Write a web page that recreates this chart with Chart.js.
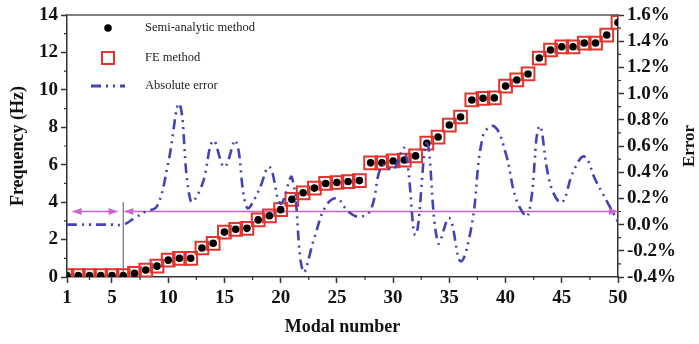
<!DOCTYPE html>
<html>
<head>
<meta charset="utf-8">
<script src="https://cdn.jsdelivr.net/npm/chart.js@4.4.1/dist/chart.umd.min.js"></script>
<style>
  body { margin: 0; background: #fff; }
  #wrap { width: 699px; height: 344px; }
</style>
</head>
<body>
<div id="wrap"><canvas id="myChart" width="699" height="344"></canvas></div>
<script>
// modal numbers 1..50
const modes = [1, 2, 3, 4, 5, 6, 7, 8, 9, 10,
  11, 12, 13, 14, 15, 16, 17, 18, 19, 20,
  21, 22, 23, 24, 25, 26, 27, 28, 29, 30,
  31, 32, 33, 34, 35, 36, 37, 38, 39, 40,
  41, 42, 43, 44, 45, 46, 47, 48, 49, 50];

// frequency (Hz)
const semiAnalytic = [0.08, 0.08, 0.08, 0.08, 0.08, 0.08, 0.2, 0.37, 0.58, 0.9,
  1.0, 1.0, 1.55, 1.8, 2.4, 2.55, 2.6, 3.05, 3.27, 3.6,
  4.15, 4.5, 4.75, 5.0, 5.05, 5.1, 5.15, 6.1, 6.1, 6.2,
  6.25, 6.47, 7.15, 7.48, 8.12, 8.55, 9.46, 9.55, 9.57, 10.2,
  10.53, 10.85, 11.7, 12.13, 12.3, 12.3, 12.5, 12.5, 12.93, 13.6];
const feMethod = [0.08, 0.08, 0.08, 0.08, 0.08, 0.08, 0.2, 0.37, 0.58, 0.9,
  1.0, 1.0, 1.55, 1.8, 2.4, 2.55, 2.6, 3.05, 3.27, 3.6,
  4.15, 4.5, 4.75, 5.0, 5.05, 5.1, 5.15, 6.1, 6.1, 6.2,
  6.25, 6.47, 7.15, 7.48, 8.12, 8.55, 9.46, 9.55, 9.57, 10.2,
  10.53, 10.85, 11.7, 12.13, 12.3, 12.3, 12.5, 12.5, 12.93, 13.6];

// absolute error (%)
const absError = [0.0, 0.0, 0.0, 0.0, 0.0, 0.0, 0.05, 0.1, 0.14, 0.47,
  0.92, 0.18, 0.3, 0.64, 0.44, 0.64, 0.13, 0.25, 0.44, 0.16,
  0.36, -0.36, -0.1, 0.14, 0.2, 0.1, 0.06, 0.11, 0.45, 0.42,
  0.58, -0.08, 0.62, -0.14, 0.05, -0.28, 0.0, 0.68, 0.75, 0.55,
  0.18, 0.07, 0.75, 0.3, 0.17, 0.4, 0.52, 0.34, 0.18, 0.02];

const xTicks = [1, 5, 10, 15, 20, 25, 30, 35, 40, 45, 50];
const xMinor = [3, 7.5, 12.5, 17.5, 22.5, 27.5, 32.5, 37.5, 42.5, 47.5];
const yMinor = [1, 3, 5, 7, 9, 11, 13];
const y2Minor = [-0.3, -0.1, 0.1, 0.3, 0.5, 0.7, 0.9, 1.1, 1.3, 1.5];

// magenta reference level (%) and the two arrow spans
const refLevel = 0.1;
const spanLeft = [1.5, 5.5];
const spanRight = [6.1, 50];
// vertical divider at mode 6
const divider = [{ x: 6, y: 0 }, { x: 6, y: 4 }];

const serif = "'Liberation Serif', 'Times New Roman', serif";
const redColor = '#e2342c';
const blueColor = '#4343b4';
const magenta = '#cc62cc';
const axisColor = '#333';

const pts = (ys) => modes.map((m, i) => ({ x: m, y: ys[i] }));

const extras = {
  id: 'extras',
  afterDatasetsDraw(chart) {
    const ctx = chart.ctx;
    const a = chart.chartArea;
    const { x, y, y2 } = chart.scales;
    ctx.save();
    // top frame
    ctx.strokeStyle = '#555';
    ctx.lineWidth = 1.5;
    ctx.beginPath();
    ctx.moveTo(a.left, a.top);
    ctx.lineTo(a.right, a.top);
    ctx.stroke();

    // minor ticks
    ctx.strokeStyle = axisColor;
    ctx.lineWidth = 1.2;
    ctx.beginPath();
    yMinor.forEach(v => { const p = y.getPixelForValue(v); ctx.moveTo(a.left - 3, p); ctx.lineTo(a.left, p); });
    y2Minor.forEach(v => { const p = y2.getPixelForValue(v); ctx.moveTo(a.right, p); ctx.lineTo(a.right + 3, p); });
    xMinor.forEach(v => { const p = x.getPixelForValue(v); ctx.moveTo(p, a.bottom); ctx.lineTo(p, a.bottom + 3); });
    ctx.stroke();

    // arrow heads on the magenta spans
    ctx.fillStyle = magenta;
    const head = (tx, ty, dir) => {
      ctx.beginPath();
      ctx.moveTo(tx, ty);
      ctx.lineTo(tx - dir * 9, ty - 3.5);
      ctx.lineTo(tx - dir * 9, ty + 3.5);
      ctx.closePath();
      ctx.fill();
    };
    [3, 4].forEach(i => {
      const d = chart.getDatasetMeta(i).data;
      head(d[0].x, d[0].y, -1);
      head(d[1].x, d[1].y, 1);
    });
    ctx.restore();
  },
  afterDraw(chart) {
    const ctx = chart.ctx;
    const a = chart.chartArea;
    ctx.save();
    // legend
    const sx = a.left + 41;
    const tx = a.left + 78;
    ctx.font = '12.5px ' + serif;
    ctx.fillStyle = '#222';
    ctx.textBaseline = 'middle';
    ctx.fillText('Semi-analytic method', tx, a.top + 13);
    ctx.fillText('FE method', tx, a.top + 43);
    ctx.fillText('Absolute error', tx, a.top + 71);
    ctx.fillStyle = '#000';
    ctx.beginPath();
    ctx.arc(sx, a.top + 13, 3.8, 0, Math.PI * 2);
    ctx.fill();
    ctx.strokeStyle = redColor;
    ctx.lineWidth = 2;
    ctx.strokeRect(sx - 6, a.top + 37, 12, 12);
    ctx.strokeStyle = blueColor;
    ctx.lineWidth = 3;
    ctx.setLineDash([10, 5, 2, 5, 2, 5]);
    ctx.beginPath();
    ctx.moveTo(sx - 17, a.top + 71);
    ctx.lineTo(sx + 17, a.top + 71);
    ctx.stroke();
    ctx.setLineDash([]);

    // right axis title, reading bottom to top
    ctx.fillStyle = '#111';
    ctx.font = 'bold 17px ' + serif;
    ctx.textAlign = 'center';
    ctx.translate(690, (a.top + a.bottom) / 2);
    ctx.rotate(-Math.PI / 2);
    ctx.fillText('Error', 0, 0);
    ctx.restore();
  }
};

const tickFont = { family: serif, size: 19, weight: 'bold' };
const titleFont = { family: serif, size: 18, weight: 'bold' };

new Chart(document.getElementById('myChart'), {
  type: 'line',
  data: {
    datasets: [
      {
        label: 'Absolute error',
        data: pts(absError),
        yAxisID: 'y2',
        borderColor: blueColor,
        borderWidth: 2.6,
        borderDash: [10, 5, 2, 5, 2, 5],
        pointRadius: 0,
        tension: 0.4,
        order: 0
      },
      {
        label: 'Semi-analytic method',
        data: pts(semiAnalytic),
        yAxisID: 'y',
        showLine: false,
        pointRadius: 3.8,
        pointBackgroundColor: '#000',
        pointBorderColor: '#000',
        pointBorderWidth: 0,
        order: 1
      },
      {
        label: 'FE method',
        data: pts(feMethod),
        yAxisID: 'y',
        showLine: false,
        pointStyle: 'rect',
        pointRadius: 9,
        pointBackgroundColor: 'rgba(255,255,255,0)',
        pointBorderColor: redColor,
        pointBorderWidth: 2,
        order: 2
      },
      {
        label: 'ref-left',
        data: [{ x: spanLeft[0], y: refLevel }, { x: spanLeft[1], y: refLevel }],
        yAxisID: 'y2',
        borderColor: magenta,
        borderWidth: 1.6,
        pointRadius: 0,
        order: 3
      },
      {
        label: 'ref-right',
        data: [{ x: spanRight[0], y: refLevel }, { x: spanRight[1], y: refLevel }],
        yAxisID: 'y2',
        borderColor: magenta,
        borderWidth: 1.6,
        pointRadius: 0,
        order: 3
      },
      {
        label: 'divider',
        data: divider,
        yAxisID: 'y',
        borderColor: '#555',
        borderWidth: 1,
        pointRadius: 0,
        order: 4
      }
    ]
  },
  options: {
    responsive: false,
    animation: false,
    events: [],
    layout: { padding: { top: 15, left: 0, right: 0, bottom: 0 } },
    plugins: {
      legend: { display: false },
      tooltip: { enabled: false }
    },
    scales: {
      x: {
        type: 'linear',
        min: 1,
        max: 50,
        afterBuildTicks: (scale) => { scale.ticks = xTicks.map(v => ({ value: v })); },
        afterFit: (scale) => { scale.height = 67; scale.paddingLeft = 0; scale.paddingRight = 0; },
        ticks: { font: tickFont, color: '#111', padding: 4, maxRotation: 0, autoSkip: false },
        grid: { drawOnChartArea: false, tickLength: 6, tickWidth: 1.5, tickColor: axisColor },
        border: { color: axisColor, width: 1.5 },
        title: { display: true, text: 'Modal number', font: titleFont, color: '#111', padding: { top: 2, bottom: 6 } }
      },
      y: {
        position: 'left',
        min: 0,
        max: 14,
        ticks: { stepSize: 2, font: tickFont, color: '#111', padding: 3 },
        afterFit: (scale) => { scale.width = 67; scale.paddingTop = 0; scale.paddingBottom = 0; },
        grid: { drawOnChartArea: false, tickLength: 6, tickWidth: 1.5, tickColor: axisColor },
        border: { color: axisColor, width: 1.5 },
        title: { display: true, text: 'Frequency (Hz)', font: titleFont, color: '#111', padding: { top: 8, bottom: 0 } }
      },
      y2: {
        position: 'right',
        min: -0.4,
        max: 1.6,
        ticks: {
          stepSize: 0.2,
          font: tickFont,
          color: '#111',
          padding: 3,
          callback: (v) => (Math.abs(v) < 1e-9 ? 0 : v).toFixed(1) + '%'
        },
        afterFit: (scale) => { scale.width = 81; scale.paddingTop = 0; scale.paddingBottom = 0; },
        grid: { drawOnChartArea: false, tickLength: 6, tickWidth: 1.5, tickColor: axisColor },
        border: { color: axisColor, width: 1.5 }
      }
    }
  },
  plugins: [extras]
});
</script>
</body>
</html>
